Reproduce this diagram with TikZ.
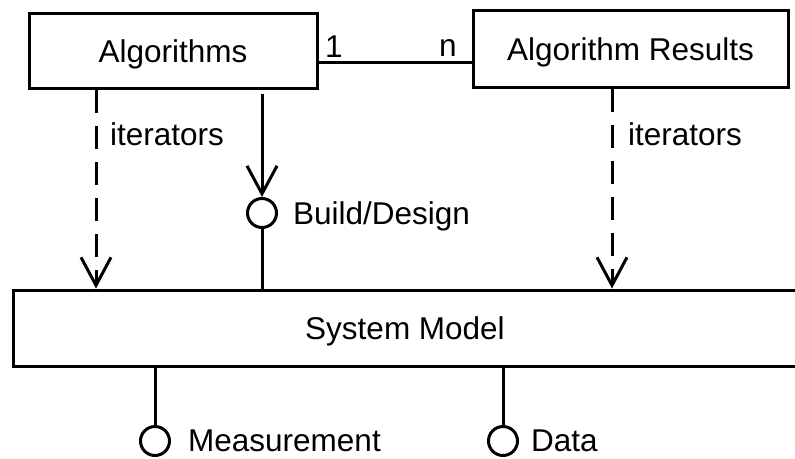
\documentclass[tikz,border=0pt]{standalone}
\usepackage{fontspec}
\setmainfont{Liberation Sans}
\usetikzlibrary{arrows.meta}
\begin{document}
\begin{tikzpicture}[x=1pt,y=-1pt,
  every node/.style={font=\fontsize{31.5}{36}\selectfont},
  box/.style={draw, line width=3pt, rectangle, inner sep=0pt, text height=23pt, text depth=0pt},
  port/.style={draw, circle, line width=3pt, minimum size=29pt, inner sep=0pt},
  link/.style={line width=3pt},
  dep/.style={line width=3pt, dash pattern=on 23pt off 13pt, -{Straight Barb[length=28pt,width=30pt]}},
  use/.style={line width=3pt, -{Straight Barb[length=28pt,width=30pt]}},
  lbl/.style={inner sep=0pt, anchor=base west}]
  \useasboundingbox (0,0) rectangle (795,458);

  % components
  \node[box, minimum width=288pt, minimum height=75pt] (alg) at (173,50.5) {Algorithms};
  \node[box, minimum width=315pt, minimum height=77pt] (res) at (630.5,48.5) {Algorithm Results};
  \node[box, minimum width=784pt, minimum height=76pt] (sys) at (405,328) {System Model};

  % interfaces (lollipops)
  \node[port] (build) at (262,213) {};
  \node[port] (meas) at (155,441) {};
  \node[port] (data) at (503,441) {};

  % association 1..n
  \coordinate (assoc) at (0,62);
  \draw[link] (alg.east |- assoc) -- (res.west |- assoc);
  \node[inner sep=0pt, anchor=base] (one) at (334,57) {1};
  \node[inner sep=0pt, anchor=base] (many) at (448,56) {n};

  % iterator dependencies
  \coordinate (lx) at (96,0);
  \coordinate (rx) at (612,0);
  \draw[dep] (alg.south -| lx) -- (sys.north -| lx);
  \draw[dep] (res.south -| rx) -- (sys.north -| rx);

  % use of the build interface
  \draw[use, shorten <=4pt] (alg.south -| build) -- (build.north);
  \draw[link] (build.south) -- (sys.north -| build);

  % provided interfaces
  \draw[link] (sys.south -| meas) -- (meas.north);
  \draw[link] (sys.south -| data) -- (data.north);

  % labels
  \node[lbl] (itl) at (110,145) {iterators};
  \node[lbl] (itr) at (628,145) {iterators};
  \node[lbl] (bl) at (293,224) {Build/Design};
  \node[lbl] (ml) at (188,451.5) {Measurement};
  \node[lbl] (dl) at (531,451.5) {Data};
\end{tikzpicture}
\end{document}
